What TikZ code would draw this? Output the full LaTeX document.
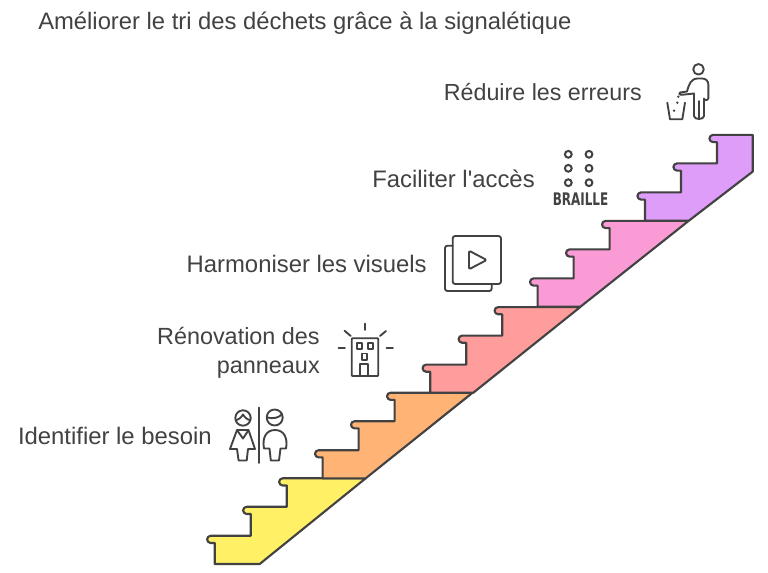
\documentclass[tikz,border=0pt]{standalone}
\usepackage{fontspec}
\setmainfont{Liberation Sans}
\newfontfamily\plainfont{Liberation Sans}
\newfontfamily\brafont{DejaVu Sans}
\definecolor{ink}{HTML}{424242}
\definecolor{cyel}{HTML}{FFF066}
\definecolor{cora}{HTML}{FFB375}
\definecolor{csal}{HTML}{FF9C9C}
\definecolor{cpin}{HTML}{FA9BD6}
\definecolor{cpur}{HTML}{DD9DF9}
\tikzset{
  stair/.style={draw=ink,line width=1.6pt,line join=round},
  icon/.style={draw=ink,line width=1.4pt,line join=round,line cap=round},
  lbl/.style={anchor=base east,text=ink,inner sep=0pt,font=\fontsize{17.9}{20}\selectfont},
  lblb/.style={lbl,font=\fontsize{17.55}{20}\selectfont},
}
% one flight of three steps; local origin = bottom of the left riser
\newcommand{\stepsleft}{(0,0) -- (0,-21) -- (-4,-21) arc[start angle=90,end angle=270,radius=3.6] -- (36,-28.2) -- (36,-50) -- (32,-50) arc[start angle=90,end angle=270,radius=3.6] -- (72,-57.2) -- (72,-78.5) -- (68,-78.5) arc[start angle=90,end angle=270,radius=3.6]}
\begin{document}
\begin{tikzpicture}[x=0.75pt,y=-0.75pt]
\useasboundingbox (0,0) rectangle (768,573);
\fill[white] (0,0) rectangle (768,573);
% stairs
\draw[stair,fill=cyel,shift={(214.7,564)}] \stepsleft -- (151,-85.7) -- (45,0) -- cycle;
\draw[stair,fill=cora,shift={(322.6,478.4)}] \stepsleft -- (150,-85.7) -- (43,0) -- cycle;
\draw[stair,fill=csal,shift={(430.2,392.8)}] \stepsleft -- (150,-85.7) -- (43,0) -- cycle;
\draw[stair,fill=cpin,shift={(537.6,306.6)}] \stepsleft -- (151,-85.7) -- (43,0) -- cycle;
\draw[stair,fill=cpur,shift={(645,220.6)}] \stepsleft -- (107.7,-85.7) -- (107.7,-49) -- (44,0) -- cycle;
% labels
\node[anchor=base west,text=ink,inner sep=0pt,font=\fontsize{17.85}{20}\selectfont] (title) at (38,29.5) {Améliorer le tri des déchets grâce à la signalétique};
\node[lbl] (l1) at (212,444.5) {Identifier le besoin};
\node[lblb] (l2a) at (320,344.5) {Rénovation des};
\node[lblb] (l2b) at (320,373.5) {panneaux};
\node[lbl] (l3) at (427,272.5) {Harmoniser les visuels};
\node[lbl] (l4) at (535,187.5) {Faciliter {\plainfont l'}accès};
\node[lblb,font=\fontsize{17.45}{20}\selectfont] (l5) at (642,100.5) {Réduire les erreurs};
% restroom icon
\draw[icon] (243,418) circle[radius=7.7];
\draw[icon] (235.6,420) .. controls (238,420) and (241,418) .. (243,414.5) .. controls (245,418) and (248,420) .. (250.4,420);
\draw[icon] (237,430) -- (248.5,430) -- (255,449) -- (248,449) -- (246.7,460.5) -- (238.6,460.5) -- (237,449) -- (230,449) -- cycle;
\draw[icon] (237.6,431) -- (243,438.5) -- (248,431);
\draw[icon] (259,407.5) -- (259,463);
\draw[icon] (274.7,417.5) circle[radius=8];
\draw[icon] (267.2,417.5) .. controls (273,419) and (279,418) .. (282,414);
\draw[icon] (269.5,448.5) -- (264,448.5) .. controls (262,438) and (266,430) .. (275,430) .. controls (284,430) and (288,438) .. (286,448.5) -- (280.5,448.5) -- (279,460.5) -- (270.8,460.5) -- cycle;
% building icon
\draw[icon,rounded corners=0.6pt] (351.7,338.3) rectangle (378.3,376);
\draw[icon] (356.7,343.3) rectangle (361.7,348.6);
\draw[icon] (367.7,343.3) rectangle (372.7,348.6);
\draw[icon] (361.7,353.5) rectangle (366.7,360);
\draw[icon] (360,376) -- (360,364.3) -- (368.3,364.3) -- (368.3,376);
\draw[icon] (365,323.5) -- (365,330);
\draw[icon] (344.5,330.7) -- (350.7,336);
\draw[icon] (386,331) -- (380,336);
\draw[icon] (338.5,348.3) -- (345,348.3);
\draw[icon] (386.5,348.3) -- (393,348.3);
% play icon
\draw[icon,rounded corners=1.8pt] (452.7,236) rectangle (501,284);
\draw[icon,rounded corners=1.8pt] (452.7,245.7) -- (445,245.7) -- (445,291) -- (491.7,291) -- (491.7,284);
\draw[icon,rounded corners=1pt] (469,250.7) -- (469,269.3) -- (486.7,260) -- cycle;
% braille icon
\foreach \bx in {568.3,589} \foreach \by in {154.3,168.3,182.7}
  \draw[draw=ink,line width=1.5pt] (\bx,\by) circle[radius=3.4];
\node[text=ink,inner sep=0pt,anchor=base,xscale=0.69,font=\brafont\bfseries\fontsize{13}{14}\selectfont] (brl) at (580.5,206) {BRAILLE};
% waste icon
\draw[icon] (698.5,69.3) circle[radius=5.3];
\draw[icon] (680,92.5) -- (687,91.5) .. controls (689,84) and (691,78.5) .. (698,78.5) -- (702,78.5) .. controls (706,78.5) and (708.4,81) .. (708.4,85) -- (708.4,98) .. controls (708.4,100.5) and (704,101) .. (704,98.5) -- (704,116) .. controls (704,120) and (694,120) .. (694,116) -- (694,93.5) -- (682,94.8) .. controls (679,95) and (678.5,93) .. (680,92.5);
\draw[icon] (699,101) -- (699,119);
\draw[icon] (667.3,102.7) -- (670,119.3) -- (682.3,119.3) -- (685,102.7);
\fill[ink] (678.3,96.7) circle[radius=1.3] (677.3,102.7) circle[radius=1.3] (674,110.7) circle[radius=1.3];
\end{tikzpicture}
\end{document}
